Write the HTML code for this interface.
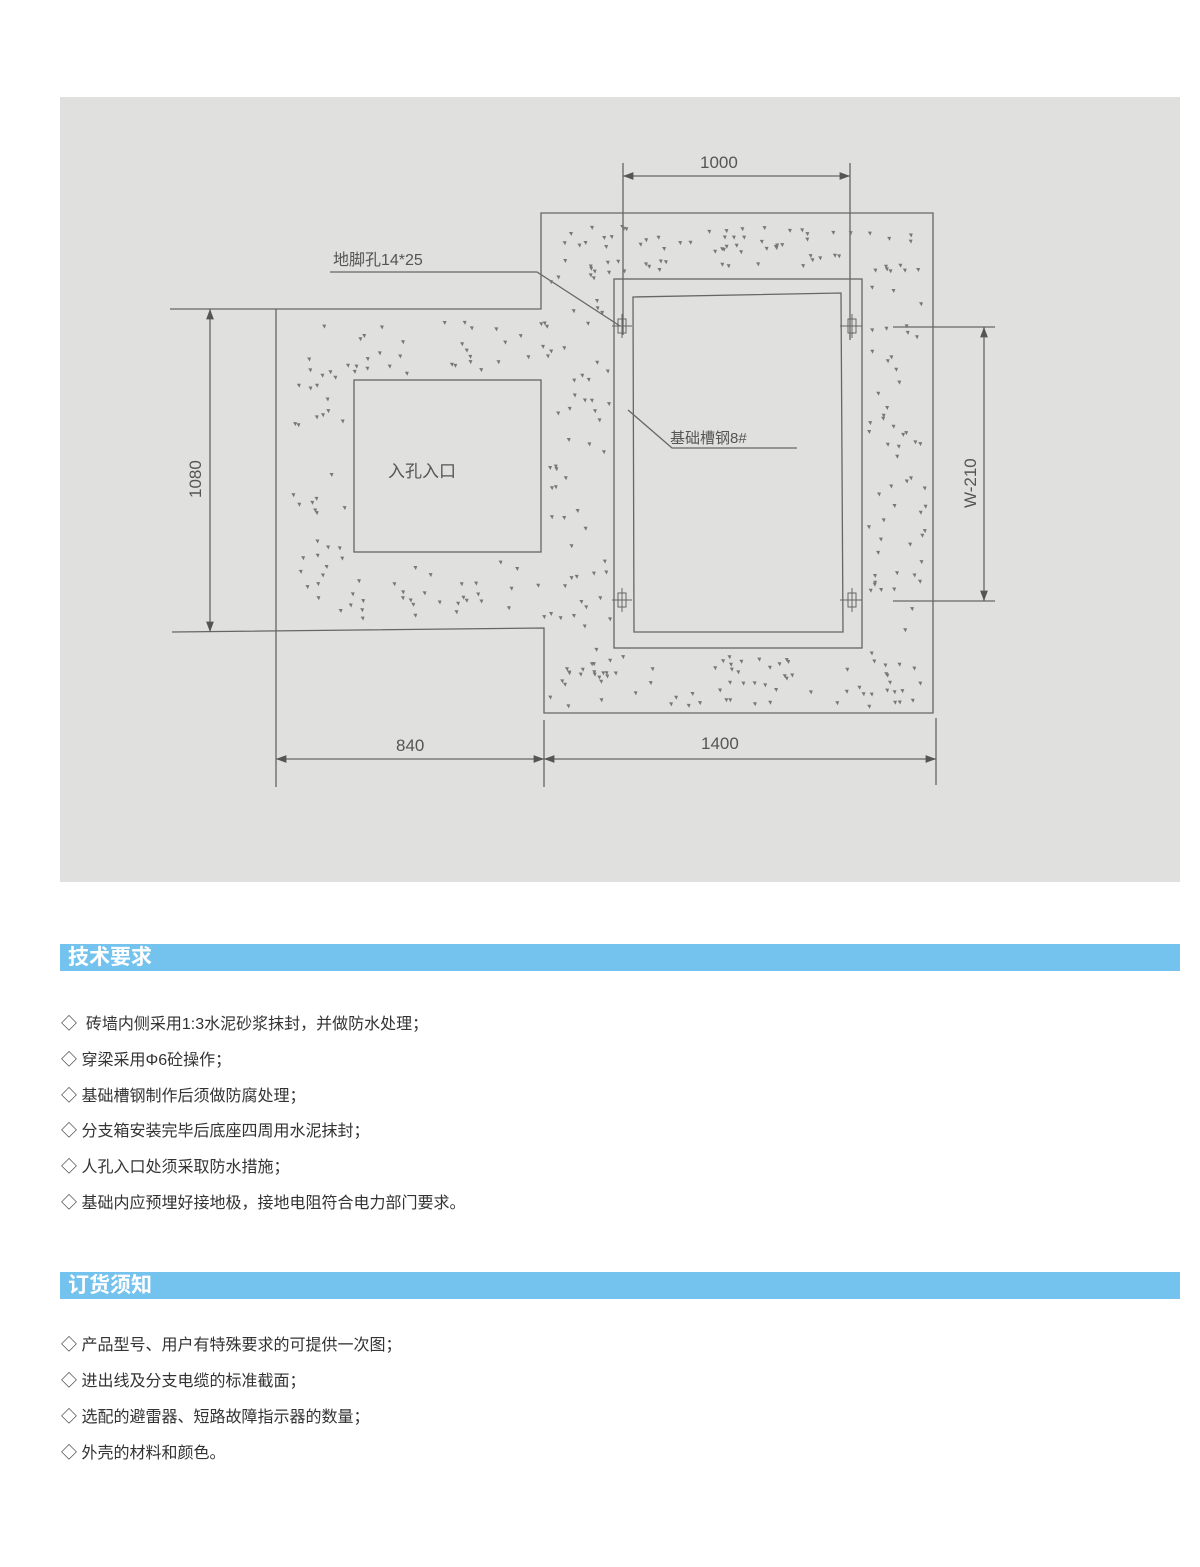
<!DOCTYPE html>
<html><head><meta charset="utf-8"><style>
body{margin:0;width:1200px;height:1567px;background:#fff;font-family:"Liberation Sans","Noto Sans CJK SC",sans-serif;position:relative;overflow:hidden}
.bar{position:absolute;left:60px;width:1120px;height:27px;background:#74c2ee;color:#fff;font-weight:bold;font-size:21px;line-height:27px;padding-left:8px;box-sizing:border-box}
.it{position:absolute;left:61px;font-size:16px;color:#333;line-height:20px}
</style></head><body>
<svg width="1200" height="900" style="position:absolute;left:0;top:0" font-family="Liberation Sans,Noto Sans CJK SC,sans-serif">
<defs><marker id="a" markerWidth="8" markerHeight="6" refX="8" refY="3" orient="auto-start-reverse"><path d="M0,0L8,3L0,6z" fill="#555"/></marker></defs>
<rect x="60" y="97" width="1120" height="785" fill="#e0e0df"/>
<g stroke="#666" stroke-width="1.3" fill="none">
<path d="M170,309H541V213H933V713H544V628L172,632"/>
<line x1="276" y1="309" x2="276" y2="787"/>
<rect x="354" y="380" width="187" height="172"/>
<rect x="614" y="279" width="248" height="369"/>
<path d="M633,297L841,293L843,632H634Z"/>
<line x1="623" y1="163" x2="623" y2="335"/><line x1="850" y1="163" x2="850" y2="340"/>
<line x1="623" y1="176" x2="850" y2="176" marker-start="url(#a)" marker-end="url(#a)"/>
<line x1="210" y1="309" x2="210" y2="632" marker-start="url(#a)" marker-end="url(#a)"/>
<line x1="893" y1="327" x2="995" y2="327"/><line x1="893" y1="601" x2="995" y2="601"/>
<line x1="984" y1="327" x2="984" y2="601" marker-start="url(#a)" marker-end="url(#a)"/>
<line x1="544" y1="720" x2="544" y2="787"/><line x1="936" y1="718" x2="936" y2="785"/>
<line x1="276" y1="759" x2="544" y2="759" marker-start="url(#a)" marker-end="url(#a)"/>
<line x1="544" y1="759" x2="936" y2="759" marker-start="url(#a)" marker-end="url(#a)"/>
<path d="M330,272H537L620,326"/>
<path d="M628,410L672,448H797"/>
<g stroke-width="1">
<rect x="618" y="319" width="8" height="14"/><line x1="612" y1="326" x2="632" y2="326"/><line x1="622" y1="314" x2="622" y2="338"/>
<rect x="848" y="319" width="8" height="14"/><line x1="840" y1="326" x2="862" y2="326"/><line x1="852" y1="314" x2="852" y2="338"/>
<rect x="618" y="593" width="8" height="14"/><line x1="612" y1="600" x2="632" y2="600"/><line x1="622" y1="588" x2="622" y2="612"/>
<rect x="848" y="593" width="8" height="14"/><line x1="840" y1="600" x2="862" y2="600"/><line x1="852" y1="588" x2="852" y2="612"/>
</g></g>
<g id="dots" fill="#777"></g>
<g fill="#555" font-size="17">
<text x="700" y="168">1000</text>
<text x="396" y="751">840</text>
<text x="701" y="749">1400</text>
<text x="333" y="265" font-size="16">地脚孔14*25</text>
<text x="670" y="443" font-size="15">基础槽钢8#</text>
<text x="388" y="477" font-size="17">入孔入口</text>
<text transform="translate(201,498) rotate(-90)">1080</text>
<text transform="translate(976,508) rotate(-90)">W-210</text>
</g>
</svg>
<script>
var g=document.getElementById('dots'),s=7,h='';
function r(){s=(s*9301+49297)%233280;return s/233280;}
function band(x0,y0,x1,y1,n,ex){for(var i=0;i<n;i++){var x=x0+r()*(x1-x0),y=y0+r()*(y1-y0);if(ex&&x>ex[0]&&x<ex[2]&&y>ex[1]&&y<ex[3]){continue;}h+='<path d="M'+x.toFixed(1)+','+y.toFixed(1)+'l4,0l-1.5,4z"/>';}}
band(560,225,925,270,70);
band(865,255,925,705,70);
band(560,655,925,705,60);
band(548,270,610,705,60);
band(290,320,548,620,170,[345,372,548,560]);
g.innerHTML=h;
</script>
<div class="bar" style="top:944px">技术要求</div>
<div class="it" style="top:1015px">◇ &nbsp;砖墙内侧采用1:3水泥砂浆抹封，并做防水处理；</div>
<div class="it" style="top:1051px">◇ 穿梁采用Φ6砼操作；</div>
<div class="it" style="top:1087px">◇ 基础槽钢制作后须做防腐处理；</div>
<div class="it" style="top:1122px">◇ 分支箱安装完毕后底座四周用水泥抹封；</div>
<div class="it" style="top:1158px">◇ 人孔入口处须采取防水措施；</div>
<div class="it" style="top:1194px">◇ 基础内应预埋好接地极，接地电阻符合电力部门要求。</div>
<div class="bar" style="top:1272px">订货须知</div>
<div class="it" style="top:1336px">◇ 产品型号、用户有特殊要求的可提供一次图；</div>
<div class="it" style="top:1372px">◇ 进出线及分支电缆的标准截面；</div>
<div class="it" style="top:1408px">◇ 选配的避雷器、短路故障指示器的数量；</div>
<div class="it" style="top:1444px">◇ 外壳的材料和颜色。</div>
</body></html>
